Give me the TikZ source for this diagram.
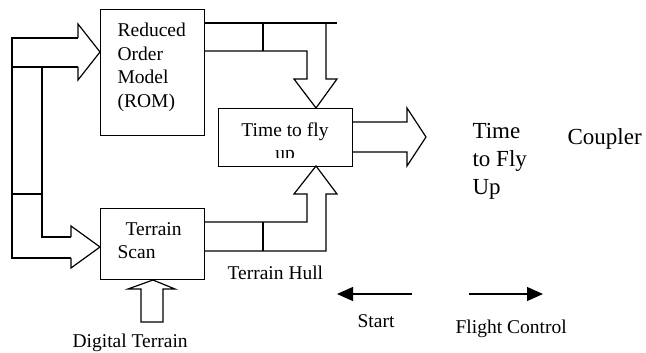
\documentclass[tikz,border=0pt]{standalone}
\usepackage{fontspec}
\setmainfont{Liberation Serif}
\usetikzlibrary{arrows.meta}
\tikzset{
	blk/.style={draw, line width=1.2pt, inner sep=0pt},
	lbl/.style={inner sep=0pt, font=\fontsize{19.5}{23.5}\selectfont},
	biglbl/.style={inner sep=0pt, align=left, font=\fontsize{23}{28}\selectfont},
}
\begin{document}
\begin{tikzpicture}[x=1pt, y=-1pt, line width=1.2pt]
	\useasboundingbox (0,0) rectangle (646,353);
	% boxes
	\node[blk, minimum width=104pt, minimum height=126pt, anchor=north west] (rom) at (100,9) {};
	\node[lbl, anchor=north west, align=left] (romtxt) at (117,22.7) {Reduced\\Order\\Model\\(ROM)};
	\node[blk, minimum width=104pt, minimum height=71pt, anchor=north west] (scan) at (100,208) {};
	\node[lbl, anchor=north west, align=left] (scantxt) at (117,221.7) {\hspace{8pt}Terrain\\Scan};
	\node[blk, minimum width=134pt, minimum height=58pt, anchor=north west] (tfu) at (218,108) {};
	\node[lbl, anchor=base] (tfutxt) at (285,136) {Time to fly};
	\begin{scope}
		\clip (219,109) rectangle (351,157);
		\node[lbl, anchor=base] (tfutxt2) at (285,160) {up};
	\end{scope}
	% forked arrow into ROM and scan
	\draw (78,38) -- (12,38) -- (12,258) -- (71,258);
	\draw (78,67) -- (12,67);
	\draw (42,67) -- (42,237) -- (71,237);
	\draw (12,194) -- (42,194);
	\draw (78,38) -- (78,24) -- (rom.west |- 0,52) -- (78,80) -- (78,67);
	\draw (71,237) -- (71,226) -- (scan.west |- 0,247) -- (71,268) -- (71,258);
	% ROM to time to fly up
	\draw (204,23) -- (337,23);
	\draw (204,51) -- (307,51) -- (307,79) -- (294,79) -- (316,108) -- (337,79) -- (326,79) -- (326,23);
	\draw (263,23) -- (263,51);
	% scan to time to fly up
	\draw (204,251) -- (326,251) -- (326,194) -- (337,194) -- (316,166) -- (294,194) -- (307,194) -- (307,222) -- (204,222);
	\draw (263,222) -- (263,251);
	% output
	\draw (352,122) -- (407,122) -- (407,108) -- (426,137) -- (407,166) -- (407,152) -- (352,152);
	% digital terrain
	\draw (141,322) -- (141,289) -- (128,289) -- (153,280) -- (175,289) -- (163,289) -- (163,322) -- cycle;
	% labels
	\node[biglbl, anchor=north west] (tfuout) at (472,122.8) {Time\\to Fly\\Up};
	\node[biglbl, anchor=base west] (coupler) at (567,145) {Coupler};
	\node[lbl, anchor=base west] (hull) at (227,279) {Terrain Hull};
	\node[lbl, anchor=base west] (digital) at (72,347) {Digital Terrain};
	\node[lbl, anchor=base west] (start) at (357,327) {Start};
	\node[lbl, anchor=base west] (fcs) at (455,333) {Flight Control};
	% start and flight control arrows
	\coordinate (starta) at (412,294);
	\coordinate (startb) at (337,294);
	\coordinate (fcsa) at (469,294);
	\coordinate (fcsb) at (543,294);
	\draw[-{Triangle[length=16pt, width=14pt]}] (starta) -- (startb);
	\draw[-{Triangle[length=16pt, width=14pt]}] (fcsa) -- (fcsb);
\end{tikzpicture}
\end{document}
